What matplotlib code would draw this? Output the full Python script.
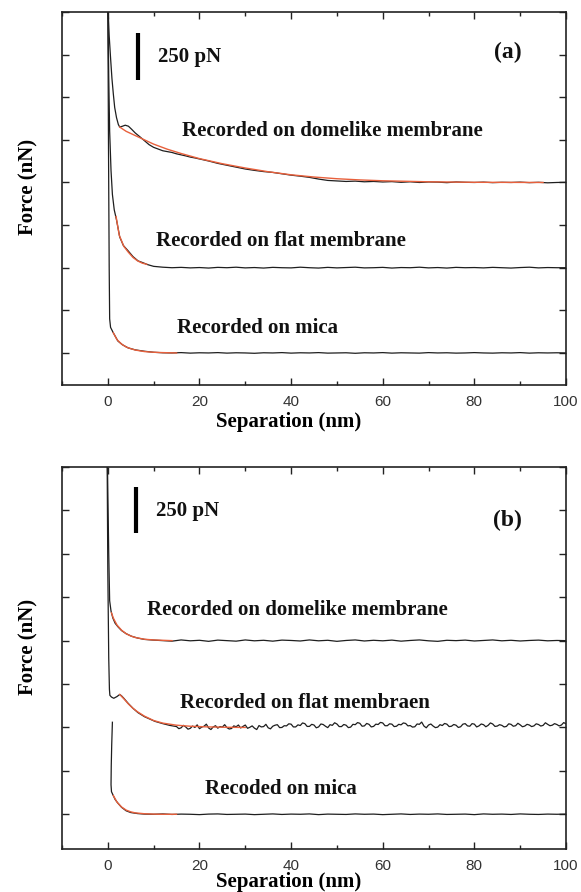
import numpy as np
import matplotlib
matplotlib.use("Agg")
import matplotlib.pyplot as plt
from matplotlib.ticker import MultipleLocator

# ---------------- data (nN, nm) ----------------
# Panel (a)
a_dome_x = [0.0, 0.3, 0.6, 0.9, 1.2, 1.5, 1.9, 2.3, 2.6, 3.2, 3.8, 4.5, 5.2, 6.0, 7.0, 8.0, 9.0,
            10, 11, 12, 13, 14, 15, 16, 17, 18, 19, 20, 22, 24, 26, 28, 30, 32, 34, 36, 38, 40,
            42, 44, 46, 48, 50, 52, 54, 56, 58, 60, 62, 64, 66, 68, 70, 72, 74, 76, 78, 80,
            82, 84, 86, 88, 90, 92, 94, 96, 98, 100]
a_dome_y = [2.05, 1.86, 1.73, 1.61, 1.52, 1.44, 1.38, 1.34, 1.325, 1.33, 1.336, 1.33, 1.312, 1.29,
            1.268, 1.245, 1.222, 1.206, 1.196, 1.186, 1.181, 1.176, 1.168, 1.162, 1.156, 1.149,
            1.144, 1.138, 1.126, 1.112, 1.101, 1.09, 1.079, 1.071, 1.064, 1.059, 1.051, 1.043,
            1.037, 1.03, 1.02, 1.012, 1.009, 1.006, 1.008, 1.004, 1.006, 1.003, 1.005, 1.001,
            1.004, 1.0, 1.003, 1.002, 0.999, 1.003, 1.001, 1.0, 1.002, 0.999, 1.001, 1.0, 1.002,
            0.999, 1.001, 0.998, 1.0, 1.001]
a_dome_fit_x = [2.6, 4, 6, 8, 10, 13, 16, 20, 25, 30, 35, 40, 45, 50, 55, 60, 70, 80, 95]
a_dome_fit_y = [1.325, 1.3, 1.275, 1.25, 1.225, 1.195, 1.17, 1.14, 1.11, 1.085, 1.063, 1.045,
                1.032, 1.022, 1.015, 1.01, 1.004, 1.001, 1.0]

a_flat_x = [0.0, 0.2, 0.4, 0.7, 1.0, 1.4, 1.9, 2.6, 3.4, 4.4, 5.5, 6.6, 7.6, 8.7, 10, 12, 14, 16,
            18, 20, 22, 24, 26, 28, 30, 32, 34, 36, 38, 40, 42, 44, 46, 48, 50, 52, 54, 56, 58,
            60, 62, 64, 66, 68, 70, 72, 74, 76, 78, 80, 82, 84, 86, 88, 90, 92, 94, 96, 98, 100]
a_flat_y = [2.05, 1.62, 1.3, 1.07, 0.93, 0.84, 0.78, 0.68, 0.63, 0.6, 0.565, 0.54, 0.53, 0.518,
            0.508, 0.503, 0.5, 0.502, 0.499, 0.501, 0.498, 0.502, 0.5, 0.503, 0.499, 0.501, 0.498,
            0.502, 0.5, 0.499, 0.503, 0.5, 0.498, 0.502, 0.499, 0.501, 0.503, 0.499, 0.5, 0.502,
            0.498, 0.501, 0.5, 0.503, 0.499, 0.501, 0.498, 0.502, 0.5, 0.501, 0.499, 0.502, 0.5,
            0.498, 0.501, 0.503, 0.499, 0.501, 0.5, 0.5]
a_flat_fit_x = [1.8, 2.5, 3.5, 4.5, 5.5, 6.5, 7.5, 8.5]
a_flat_fit_y = [0.8, 0.69, 0.625, 0.59, 0.56, 0.54, 0.527, 0.52]

a_mica_x = [0.0, 0.15, 0.3, 0.4, 0.6, 1.2, 2.2, 3.2, 4.4, 6, 8, 10, 12, 14, 16, 18, 20, 22, 24, 26,
            28, 30, 32, 34, 36, 38, 40, 42, 44, 46, 48, 50, 52, 54, 56, 58, 60, 62, 64, 66, 68,
            70, 72, 74, 76, 78, 80, 82, 84, 86, 88, 90, 92, 94, 96, 98, 100]
a_mica_y = [2.05, 1.2, 0.5, 0.2, 0.15, 0.118, 0.07, 0.048, 0.03, 0.018, 0.01, 0.004, 0.001, 0.0,
            0.002, -0.001, 0.001, 0.0, 0.002, -0.001, 0.001, 0.0, -0.002, 0.001, 0.0, 0.002,
            -0.001, 0.001, 0.0, 0.002, -0.001, 0.0, 0.001, -0.002, 0.001, 0.0, 0.002, -0.001,
            0.001, 0.0, -0.001, 0.002, 0.0, 0.001, -0.001, 0.0, 0.002, 0.0, -0.001, 0.001, 0.0,
            0.002, -0.001, 0.001, 0.0, 0.001, 0.0]
a_mica_fit_x = [1.2, 2, 3, 4, 5, 6, 8, 10, 12, 15]
a_mica_fit_y = [0.118, 0.078, 0.052, 0.035, 0.025, 0.017, 0.008, 0.004, 0.002, 0.0]

# Panel (b)
b_dome_x = [-0.1, 0.2, 0.4, 0.7, 1.1, 1.6, 2.2, 3.0, 4.0, 5.2, 6.5, 8, 10, 12, 14, 16, 18, 20, 22,
            24, 26, 28, 30, 32, 34, 36, 38, 40, 42, 44, 46, 48, 50, 52, 54, 56, 58, 60, 62, 64,
            66, 68, 70, 72, 74, 76, 78, 80, 82, 84, 86, 88, 90, 92, 94, 96, 98, 100]
b_dome_y = [2.05, 1.5, 1.23, 1.17, 1.13, 1.1, 1.08, 1.058, 1.04, 1.025, 1.015, 1.007, 1.003, 1.0,
            0.997, 1.004, 0.999, 1.002, 0.996, 1.003, 1.0, 0.997, 1.004, 0.999, 1.002, 0.997,
            1.003, 1.001, 0.998, 1.004, 0.999, 1.002, 0.996, 1.001, 1.004, 0.998, 1.002, 0.999,
            1.003, 0.997, 1.001, 1.004, 0.999, 0.996, 1.002, 1.0, 1.003, 0.998, 1.001, 1.004,
            0.999, 1.002, 0.998, 1.001, 1.003, 0.999, 1.001, 1.0]
b_dome_fit_x = [0.8, 1.2, 2, 3, 4, 5, 6, 8, 10, 12, 14]
b_dome_fit_y = [1.16, 1.13, 1.09, 1.06, 1.04, 1.027, 1.018, 1.008, 1.004, 1.002, 1.0]

b_flat_head_x = [-0.15, 0.0, 0.2, 0.35, 0.45, 0.8, 1.3, 2.0, 2.6, 3.0, 3.5, 4.4, 5.5, 6.6, 8,
                 9, 10.3, 12, 13.5]
b_flat_head_y = [2.05, 1.4, 0.9, 0.72, 0.685, 0.675, 0.668, 0.678, 0.69, 0.682, 0.668, 0.64,
                 0.61, 0.585, 0.562, 0.55, 0.535, 0.522, 0.512]
# noisy tail, sampled every half nm from 15 to 100 nm
b_flat_tail_y = [0.505, 0.493, 0.498, 0.512, 0.503, 0.490, 0.495, 0.508, 0.500, 0.515, 0.493,
                 0.502, 0.507, 0.519, 0.497, 0.488, 0.503, 0.510, 0.496, 0.505, 0.502, 0.516,
                 0.499, 0.491, 0.494, 0.509, 0.504, 0.514, 0.497, 0.506, 0.514, 0.495, 0.501,
                 0.509, 0.496, 0.488, 0.511, 0.503, 0.505, 0.518, 0.498, 0.492, 0.507, 0.513,
                 0.516, 0.499, 0.500, 0.510, 0.509, 0.521, 0.519, 0.503, 0.503, 0.515, 0.511,
                 0.526, 0.522, 0.506, 0.506, 0.518, 0.514, 0.498, 0.503, 0.520, 0.517, 0.507,
                 0.499, 0.516, 0.512, 0.527, 0.520, 0.505, 0.505, 0.517, 0.513, 0.499, 0.502,
                 0.518, 0.516, 0.528, 0.524, 0.507, 0.509, 0.523, 0.518, 0.503, 0.506, 0.519,
                 0.517, 0.529, 0.526, 0.510, 0.510, 0.521, 0.519, 0.505, 0.507, 0.518, 0.515,
                 0.526, 0.523, 0.509, 0.511, 0.502, 0.504, 0.520, 0.518, 0.531, 0.508, 0.498,
                 0.514, 0.520, 0.508, 0.499, 0.502, 0.516, 0.511, 0.523, 0.519, 0.505, 0.507,
                 0.517, 0.513, 0.500, 0.504, 0.519, 0.522, 0.509, 0.507, 0.522, 0.519, 0.503,
                 0.509, 0.520, 0.516, 0.504, 0.512, 0.526, 0.520, 0.506, 0.508, 0.516, 0.512,
                 0.503, 0.506, 0.521, 0.518, 0.507, 0.510, 0.524, 0.515, 0.504, 0.508, 0.518,
                 0.514, 0.505, 0.509, 0.521, 0.517, 0.508, 0.512, 0.527, 0.518, 0.510, 0.513,
                 0.522, 0.517, 0.509, 0.514, 0.528, 0.521]
b_flat_fit_x = [2.6, 3.5, 4.5, 5.5, 6.5, 8, 10, 12, 15, 18, 22, 26, 30]
b_flat_fit_y = [0.69, 0.665, 0.635, 0.61, 0.59, 0.565, 0.54, 0.525, 0.513, 0.507, 0.503, 0.501, 0.5]

b_mica_x = [1.0, 0.85, 0.75, 0.7, 0.8, 1.15, 1.6, 2.2, 3.0, 4.0, 5.0, 6.5, 8, 10, 12, 14, 16, 18,
            20, 22, 24, 26, 28, 30, 32, 34, 36, 38, 40, 42, 44, 46, 48, 50, 52, 54, 56, 58, 60,
            62, 64, 66, 68, 70, 72, 74, 76, 78, 80, 82, 84, 86, 88, 90, 92, 94, 96, 98, 100]
b_mica_y = [0.53, 0.4, 0.28, 0.17, 0.13, 0.11, 0.085, 0.064, 0.04, 0.02, 0.01, 0.004, 0.001, 0.0,
            0.002, -0.001, 0.001, 0.0, -0.002, 0.001, 0.002, -0.001, 0.0, 0.001, -0.002, 0.0,
            0.002, -0.001, 0.001, 0.0, 0.002, -0.002, 0.001, 0.0, -0.001, 0.002, 0.0, 0.001,
            -0.002, 0.0, 0.002, -0.001, 0.001, 0.0, 0.002, -0.001, 0.0, 0.001, -0.002, 0.002,
            0.0, 0.001, -0.001, 0.002, 0.0, -0.001, 0.001, 0.0, 0.001]
b_mica_fit_x = [1.2, 2, 3, 4, 5, 6, 8, 10, 12, 15]
b_mica_fit_y = [0.108, 0.07, 0.042, 0.024, 0.014, 0.008, 0.003, 0.001, 0.0, 0.0]

x_ticks = [0, 20, 40, 60, 80, 100]
labels_a = ["Recorded on domelike membrane", "Recorded on flat membrane", "Recorded on mica"]
labels_b = ["Recorded on domelike membrane", "Recorded on flat membraen", "Recoded on mica"]
scale_text = "250 pN"

# ---------------- style ----------------
SERIF = ["Liberation Serif", "DejaVu Serif"]
SANS = ["Liberation Sans", "DejaVu Sans"]
TRACE = "#1e1e1e"
FIT = "#e8603c"
FS = 15

fig = plt.figure(figsize=(5.81, 8.92), dpi=100)
W, H = 581.0, 892.0
ax1 = fig.add_axes([62 / W, 1 - 385 / H, 504 / W, 373 / H])
ax2 = fig.add_axes([62 / W, 1 - 849 / H, 504 / W, 382 / H])


def style(ax, ylo, xlab_y):
    ax.set_xlim(-10, 100)
    ax.set_ylim(ylo, 2.0)
    ax.xaxis.set_major_locator(MultipleLocator(20))
    ax.xaxis.set_minor_locator(MultipleLocator(10))
    ax.yaxis.set_major_locator(MultipleLocator(0.25))
    ax.set_xticks(x_ticks)
    ax.set_yticklabels([])
    ax.tick_params(which="both", direction="in", top=True, right=True, width=1.0,
                   colors="#222222")
    ax.tick_params(which="major", length=5)
    ax.tick_params(which="minor", length=3)
    ax.tick_params(axis="x", labelsize=11, pad=7, labelcolor="#333333")
    for lab in ax.get_xticklabels():
        lab.set_family(SANS)
    for s in ax.spines.values():
        s.set_linewidth(1.2)
        s.set_color("#222222")
    ax.set_xlabel("Separation (nm)", family=SERIF, fontweight="bold", fontsize=FS, labelpad=2)
    ax.xaxis.set_label_coords(0.45, xlab_y)
    ax.set_ylabel("Force (nN)", family=SERIF, fontweight="bold", fontsize=FS)
    ax.yaxis.set_label_coords(-0.047, 0.53)


def trace(ax, x, y):
    ax.plot(x, y, color=TRACE, lw=0.9, solid_joinstyle="round", zorder=2)


def fit(ax, x, y):
    ax.plot(x, y, color=FIT, lw=1.0, zorder=3)


def txt(ax, x, y, s, size=FS, ha="left"):
    ax.text(x, y, s, family=SERIF, fontweight="bold", fontsize=size, ha=ha,
            va="baseline", color="#111111")


# Panel (a)
style(ax1, -0.188, -0.072)
trace(ax1, a_dome_x, a_dome_y)
fit(ax1, a_dome_fit_x, a_dome_fit_y)
trace(ax1, a_flat_x, a_flat_y)
fit(ax1, a_flat_fit_x, a_flat_fit_y)
trace(ax1, a_mica_x, a_mica_y)
fit(ax1, a_mica_fit_x, a_mica_fit_y)
ax1.plot([6.6, 6.6], [1.604, 1.875], color="black", lw=3.0, solid_capstyle="butt")
txt(ax1, 11.0, 1.708, scale_text)
txt(ax1, 16.1, 1.27, labels_a[0])
txt(ax1, 10.6, 0.63, labels_a[1])
txt(ax1, 15.0, 0.118, labels_a[2])
txt(ax1, 87.3, 1.73, "(a)", size=17, ha="center")

# Panel (b)
style(ax2, -0.2, -0.06)
trace(ax2, b_dome_x, b_dome_y)
fit(ax2, b_dome_fit_x, b_dome_fit_y)
b_flat_tail_x = np.linspace(15, 100, len(b_flat_tail_y))
trace(ax2, list(b_flat_head_x) + list(b_flat_tail_x), list(b_flat_head_y) + list(b_flat_tail_y))
fit(ax2, b_flat_fit_x, b_flat_fit_y)
trace(ax2, b_mica_x, b_mica_y)
fit(ax2, b_mica_fit_x, b_mica_fit_y)
ax2.plot([6.1, 6.1], [1.62, 1.886], color="black", lw=3.0, solid_capstyle="butt")
txt(ax2, 10.6, 1.72, scale_text)
txt(ax2, 8.6, 1.145, labels_b[0])
txt(ax2, 15.7, 0.61, labels_b[1])
txt(ax2, 21.2, 0.116, labels_b[2])
txt(ax2, 87.3, 1.66, "(b)", size=17, ha="center")

fig.savefig("out.png", dpi=100)
